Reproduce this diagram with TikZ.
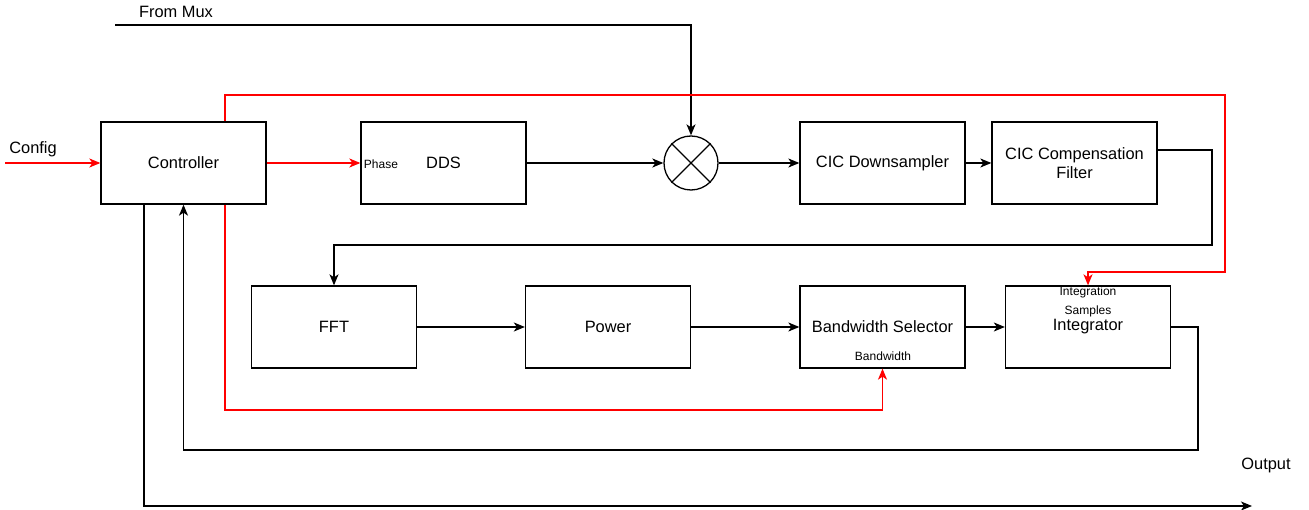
\documentclass[tikz,border=0pt]{standalone}
\usepackage{fontspec}
\setmainfont{Liberation Sans}
\usetikzlibrary{arrows.meta,positioning}

\begin{document}
\begin{tikzpicture}[x=1pt,y=-1pt]
\tikzstyle{block}=[draw,line width=1.3pt,minimum width=165pt,minimum height=82pt,align=center,font=\fontsize{16.4}{19}\selectfont]
\tikzstyle{lbl}=[inner sep=0pt,font=\fontsize{16.4}{19}\selectfont]
\tikzstyle{small}=[inner sep=0pt,font=\fontsize{12}{14}\selectfont]
\tikzstyle{wire}=[line width=1.3pt,-{Stealth[length=11pt,width=9pt,inset=3pt]}]
\tikzstyle{ctl}=[wire,red]

\useasboundingbox (0,0) rectangle (1309,510);

% top row
\node[block] (ctrl) at (183.5,163) {Controller};
\node[block] (dds) at (443.5,163) {DDS};
\node[draw,circle,line width=1.3pt,minimum size=54pt,inner sep=0pt] (mix) at (691,163) {};
\draw[line width=1.3pt] (mix.north west) -- (mix.south east) (mix.north east) -- (mix.south west);
\node[block] (cic) at (882.5,163) {CIC Downsampler};
\node[block] (comp) at (1074.5,163) {CIC Compensation\\Filter};

% bottom row
\node[block] (fft) at (334,327) {FFT};
\node[block] (pow) at (608,327) {Power};
\node[block] (bw) at (882.5,327) {Bandwidth Selector};
\node[block] (integ) at (1088,327) {Integrator};

% port names
\node[small] (phase) at (381,164) {Phase};
\node[small] (isamp1) at (1088,292) {Integration};
\node[small] (isamp2) at (1088,311) {Samples};
\node[small] (bwport) at (883,356) {Bandwidth};

% free ends
\coordinate (mux) at (115,25);
\coordinate (cfg) at (5,163);
\coordinate (out) at (1252,506);
\node[lbl] (muxtxt) at (176,12) {From Mux};
\node[lbl] (cfgtxt) at (33,149) {Config};
\node[lbl] (outtxt) at (1266,465) {Output};

% data path
\draw[wire] (mux) -| (mix.north);
\draw[wire] (dds) -- (mix);
\draw[wire] (mix) -- (cic);
\draw[wire] (cic) -- (comp);
\draw[wire] ([yshift=13pt]comp.east) -- (1212,150) -- (1212,245) -| (fft.north);
\draw[wire] (fft) -- (pow);
\draw[wire] (pow) -- (bw);
\draw[wire] (bw) -- (integ);
\draw[wire] (integ.east) -- (1198,327) -- (1198,450) -| (ctrl.south);
\draw[wire] ([xshift=-39.5pt]ctrl.south) -- (144,506) -- (out);

% control path
\draw[ctl] (cfg) -- (ctrl);
\draw[ctl] (ctrl) -- (dds);
\draw[ctl] ([xshift=41.5pt]ctrl.north) |- (1225,95) -- (1225,272) -| (integ.north);
\draw[ctl] ([xshift=41.5pt]ctrl.south) -- (225,410) -| (bw.south);
\end{tikzpicture}
\end{document}
